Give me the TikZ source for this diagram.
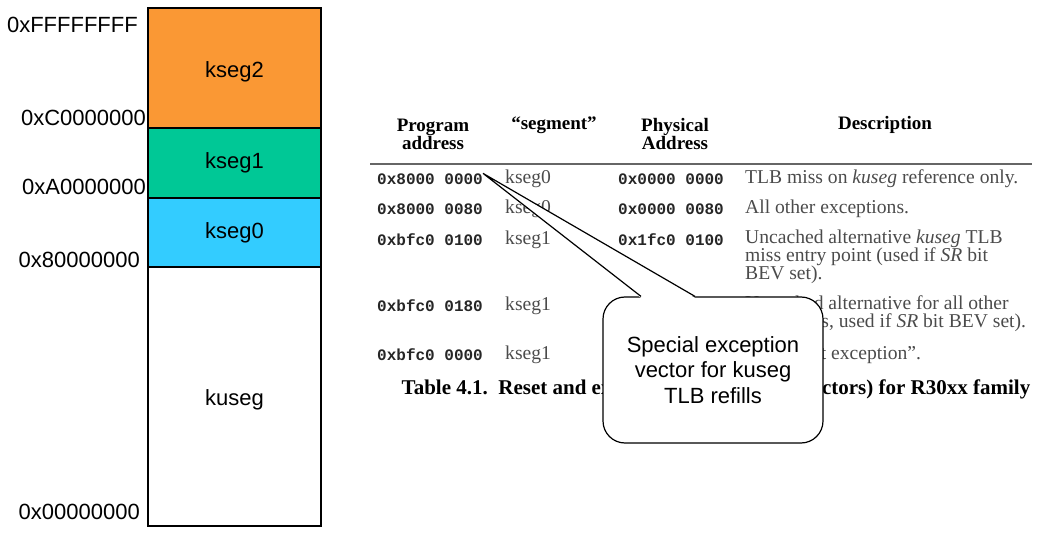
\documentclass[tikz,border=0pt]{standalone}
\usepackage{fontspec}
\setmainfont{Liberation Serif}
\setsansfont{Liberation Sans}
\setmonofont{Liberation Mono}
\usepackage{tikz}
\usetikzlibrary{positioning}
\definecolor{segorange}{RGB}{250, 152, 52}
\definecolor{seggreen}{RGB}{0, 200, 150}
\definecolor{segblue}{RGB}{51, 204, 255}
\definecolor{tabgray}{RGB}{75, 75, 75}

\begin{document}
\begin{tikzpicture}[x=1pt, y=-1pt,
    seg/.style={draw, line width=2.5pt, minimum width=173pt, inner sep=0pt, font=\sffamily\fontsize{22}{26}\selectfont},
    addr/.style={anchor=east, inner sep=0pt, font=\sffamily\fontsize{22}{26}\selectfont},
    hdr/.style={inner sep=0pt, align=center, font=\bfseries\fontsize{19}{18}\selectfont},
    hexcell/.style={anchor=west, inner sep=0pt, text=black!85, font=\ttfamily\bfseries\fontsize{16}{18}\selectfont},
    cell/.style={anchor=west, inner sep=0pt, align=left, text=tabgray, font=\fontsize{19.6}{18}\selectfont},
    notebox/.style={draw, fill=white, line width=1.2pt, rounded corners=22pt, minimum width=220pt, minimum height=146pt, align=center, font=\sffamily\fontsize{22}{25.5}\selectfont}]
    \useasboundingbox (0,0) rectangle (1041,534);

    % memory map
    \node[seg, fill=segorange, minimum height=120pt, text height=24pt, text depth=4.5pt] (kseg2) at (234.5,68) {kseg2};
    \node[seg, fill=seggreen, minimum height=70pt] (kseg1) at (234.5,163) {kseg1};
    \node[seg, fill=segblue, minimum height=69pt] (kseg0) at (234.5,232.5) {kseg0};
    \node[seg, minimum height=259pt, text height=23pt, text depth=4.5pt] (kuseg) at (234.5,396.5) {kuseg};

    \node[addr] (aFFFF) at (138,25) {0xFFFFFFFF};
    \node[addr] (aC000) at (146,118) {0xC0000000};
    \node[addr] (aA000) at (146,187) {0xA0000000};
    \node[addr] (a8000) at (140,260) {0x80000000};
    \node[addr] (a0000) at (140,512) {0x00000000};

    % table
    \node[hdr] (hprog) at (433,134) {Program\\address};
    \node[hdr] (hseg) at (554,125) {``segment''};
    \node[hdr] (hphys) at (675,134) {Physical\\Address};
    \node[hdr] (hdesc) at (885,125) {Description};
    \draw[line width=1.5pt, black!60] (370,164) -- (1032,164);

    \foreach \y/\pa/\sg/\ph [count=\i] in {179/0x8000 0000/kseg0/0x0000 0000,
        209/0x8000 0080/kseg0/0x0000 0080, 240/0xbfc0 0100/kseg1/0x1fc0 0100,
        306/0xbfc0 0180/kseg1/0x1fc0 0180, 355/0xbfc0 0000/kseg1/0x1fc0 0000} {
        \node[hexcell] (pa\i) at (377,\y) {\pa};
        \node[cell] (sg\i) at (505,\y) {\sg};
        \node[hexcell] (ph\i) at (618,\y) {\ph};
    }

    \node[cell] (d1) at (745,179) {TLB miss on \textit{kuseg} reference only.};
    \node[cell] (d2) at (745,209) {All other exceptions.};
    \node[cell] (d3) at (745,257) {Uncached alternative \textit{kuseg} TLB\\miss entry point (used if \textit{SR} bit\\BEV set).};
    \node[cell] (d4) at (745,314) {Uncached alternative for all other\\exceptions, used if \textit{SR} bit BEV set).};
    \node[cell] (d5) at (745,355) {The ``reset exception''.};

    \node[hdr, font=\bfseries\fontsize{21}{20}\selectfont] (caption) at (716,389) {Table 4.1.\ \ Reset and exception entry points (vectors) for R30xx family};

    % callout
    \node[notebox] (note) at (713,370) {Special exception\\vector for kuseg\\TLB refills};
    \coordinate (tip) at (pa1.north east);
    \coordinate (pl) at ([xshift=-72pt]note.north);
    \coordinate (pr) at ([xshift=-18pt]note.north);
    \fill[white] (tip) -- ([yshift=-1.5pt]pl) -- ([yshift=-1.5pt]pr) -- cycle;
    \draw[line width=1.2pt] (pl) -- (tip) -- (pr);
\end{tikzpicture}
\end{document}
